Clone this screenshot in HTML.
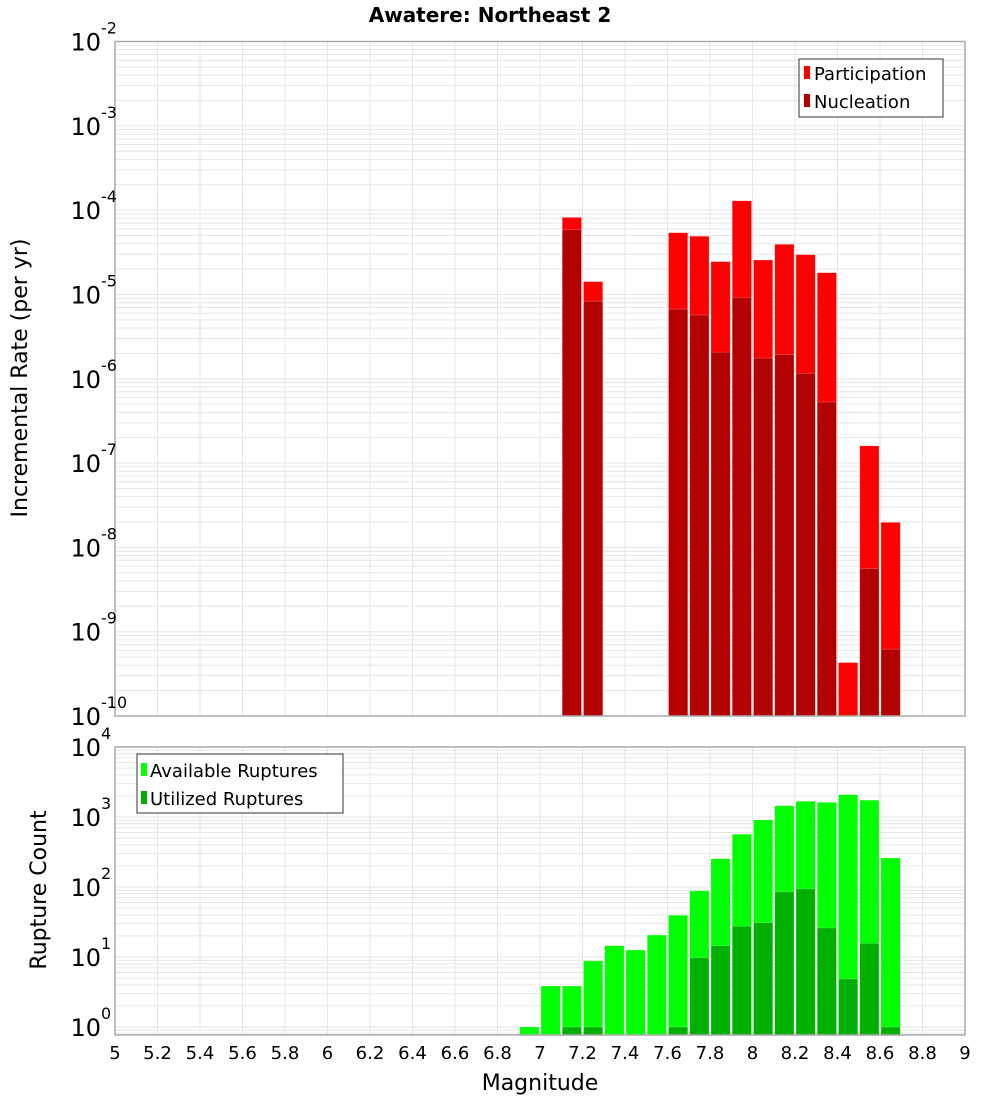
<!DOCTYPE html>
<html><head><meta charset="utf-8"><style>
body{margin:0;background:#fff;}
svg{display:block;font-family:"DejaVu Sans","Liberation Sans",sans-serif;}
</style></head><body>
<svg id="chart" width="1000" height="1100" viewBox="0 0 1000 1100">
<text x="490" y="22" text-anchor="middle" font-size="20" font-weight="bold">Awatere: Northeast 2</text>
<g id="top"></g>
<g id="bot"></g>
<text transform="translate(27,378) rotate(-90)" text-anchor="middle" font-size="22">Incremental Rate (per yr)</text>
<text transform="translate(46,890) rotate(-90)" text-anchor="middle" font-size="22">Rupture Count</text>
<text x="540" y="1090" text-anchor="middle" font-size="22">Magnitude</text>
<g>
<rect x="799" y="59" width="144" height="58" fill="#fff" stroke="#333" stroke-width="1"/>
<rect x="804" y="66" width="6" height="13" fill="#ff0000"/>
<text x="814" y="80" font-size="18">Participation</text>
<rect x="804" y="94" width="6" height="13" fill="#b30000"/>
<text x="814" y="108" font-size="18">Nucleation</text>
</g>
<g>
<rect x="137" y="754" width="206" height="59" fill="#fff" stroke="#333" stroke-width="1"/>
<rect x="141" y="763" width="6" height="13" fill="#00ff00"/>
<text x="150" y="777" font-size="18">Available Ruptures</text>
<rect x="141" y="791" width="6" height="13" fill="#00b000"/>
<text x="150" y="805" font-size="18">Utilized Ruptures</text>
</g>
</svg>
<script>
const mags = [6.95,7.05,7.15,7.25,7.35,7.45,7.55,7.65,7.75,7.85,7.95,8.05,8.15,8.25,8.35,8.45,8.55,8.65];
const participation = [0,0,8.2e-5,1.42e-5,0,0,0,5.4e-5,4.9e-5,2.45e-5,1.29e-4,2.56e-5,3.93e-5,2.96e-5,1.81e-5,4.3e-10,1.6e-7,1.98e-8];
const nucleation = [0,0,5.85e-5,8.3e-6,0,0,0,6.7e-6,5.7e-6,2.07e-6,9.2e-6,1.76e-6,1.94e-6,1.16e-6,5.3e-7,0,5.6e-9,6.2e-10];
const available = [1,3.85,3.85,8.8,14.5,12.6,20.6,39.5,88,253,567,909,1450,1680,1620,2080,1740,260];
const utilized = [0,0,1,1,0,0,0,1,9.7,14.5,27.5,31,85,94,26,4.85,15.7,1];
const xTicks = ["5","5.2","5.4","5.6","5.8","6","6.2","6.4","6.6","6.8","7","7.2","7.4","7.6","7.8","8","8.2","8.4","8.6","8.8","9"];
const topDecades = [-2,-3,-4,-5,-6,-7,-8,-9,-10];
const botDecades = [4,3,2,1,0];

const NS="http://www.w3.org/2000/svg";
const X0=115,X1=965,MMIN=5,MMAX=9;
const xs=m=>X0+(m-MMIN)/(MMAX-MMIN)*(X1-X0);
const T={top:41.5,bot:716,ymaxL:-2,yminL:-10};
const B={top:747,bot:1035,ymaxL:4,yminL:Math.log10(0.77)};
const B_DEC=70;
const ysT=v=>T.top+(T.ymaxL-Math.log10(v))*(T.bot-T.top)/(T.ymaxL-T.yminL);
const ysB=v=>B.top+(B.ymaxL-Math.log10(v))*B_DEC;
function mk(p,tag,a){const e=document.createElementNS(NS,tag);for(const k in a)e.setAttribute(k,a[k]);p.appendChild(e);return e;}

function panel(g,P,ys,decLo,decHi,name){
  mk(g,'rect',{x:X0,y:P.top,width:X1-X0,height:P.bot-P.top,fill:'#fff'});
  for(let d=decLo;d<decHi;d++){for(let k=1;k<10;k++){const y=ys(k*Math.pow(10,d));if(y<P.top||y>P.bot)continue;
    const l=mk(g,'line',{x1:X0,x2:X1,y1:y,y2:y,stroke:'#e6e6e6','stroke-width':1});
    
    }}
  xTicks.forEach(t=>{const x=xs(+t);const l=mk(g,'line',{x1:x,x2:x,y1:P.top,y2:P.bot,stroke:'#e6e6e6','stroke-width':1});
    
    });
}
function bars(g,vals,ys,P,color,name){
  vals.forEach((v,i)=>{if(!(v>0))return;const x=xs(mags[i]-0.05)+1;const w=xs(mags[i]+0.05)-xs(mags[i]-0.05)-2;
    const y=Math.max(P.top,ys(v));
    const r=mk(g,'rect',{x:x,y:y,width:w,height:P.bot-y,fill:color,stroke:'rgba(255,255,255,0.35)','stroke-width':0.6});
    
    });
}
function ylabels(g,decs,ys,name){
  decs.forEach(d=>{const y=ys(Math.pow(10,d));const t=mk(g,'text',{x:101,y:y+9,'text-anchor':'end','font-size':24});t.textContent='10';
    
    
    const s=mk(g,'text',{x:101,y:y-8,'font-size':16});s.textContent=String(d);
    
    });
}
const gt=document.getElementById('top'),gb=document.getElementById('bot');
panel(gt,T,ysT,-10,-2,'top');
bars(gt,participation,ysT,T,'#ff0000','participation');
bars(gt,nucleation,ysT,T,'#b30000','nucleation');
mk(gt,'rect',{x:X0,y:T.top,width:X1-X0,height:T.bot-T.top,fill:'none',stroke:'#aaa','stroke-width':1.5});
ylabels(gt,topDecades,ysT,'top-y');
panel(gb,B,ysB,-1,4,'bot');
bars(gb,available,ysB,B,'#00ff00','available');
bars(gb,utilized,ysB,B,'#00b000','utilized');
mk(gb,'rect',{x:X0,y:B.top,width:X1-X0,height:B.bot-B.top,fill:'none',stroke:'#aaa','stroke-width':1.5});
ylabels(gb,botDecades,ysB,'bottom-y');
xTicks.forEach(t=>{const e=mk(gb,'text',{x:xs(+t),y:1059,'text-anchor':'middle','font-size':18});e.textContent=t;
  
  });
</script>
</body></html>
